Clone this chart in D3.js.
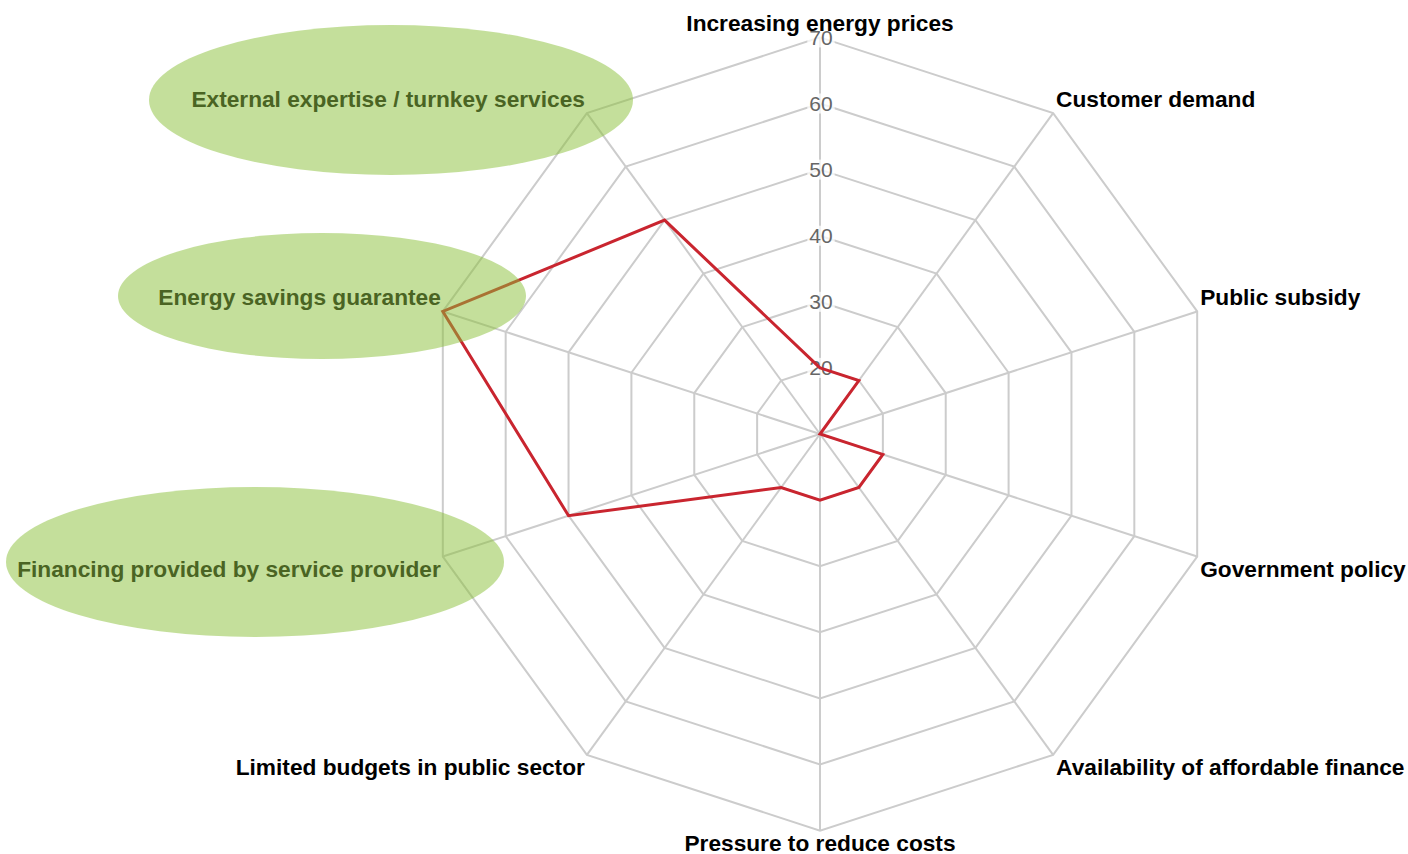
<!DOCTYPE html>
<html>
<head>
<meta charset="utf-8">
<script src="https://cdn.jsdelivr.net/npm/d3@7"></script>
<style>
  html, body { margin: 0; padding: 0; background: #fff; }
  svg { display: block; }
  text { font-family: "Liberation Sans", Arial, sans-serif; }
</style>
</head>
<body>
<svg id="chart" width="1408" height="854"></svg>
<script>
// ---- data ----
const categories = [
  "Increasing energy prices",
  "Customer demand",
  "Public subsidy",
  "Government policy",
  "Availability of affordable finance",
  "Pressure to reduce costs",
  "Limited budgets in public sector",
  "Financing provided by service provider",
  "Energy savings guarantee",
  "External expertise / turnkey services"
];
const values = [20, 20, 10, 20, 20, 20, 20, 50, 70, 50];
const tickValues = [20, 30, 40, 50, 60, 70];
const scaleMin = 10;
const scaleMax = 70;
const highlighted = [
  "External expertise / turnkey services",
  "Energy savings guarantee",
  "Financing provided by service provider"
];

// ---- layout ----
const W = 1408, H = 854;
const cx = 820, cy = 434, R = 396.6;
const labelFont = 22.7, tickFont = 21;
const ellipseLayout = {
  "External expertise / turnkey services": {cx: 391, cy: 100, rx: 242, ry: 75},
  "Energy savings guarantee": {cx: 322, cy: 296, rx: 204, ry: 63},
  "Financing provided by service provider": {cx: 255, cy: 562, rx: 249, ry: 75}
};

const svg = d3.select("#chart");
const r = d3.scaleLinear().domain([scaleMin, scaleMax]).range([0, R]);
const angle = d3.scaleLinear().domain([0, categories.length]).range([0, 2 * Math.PI]);
const pt = (i, v) => {
  const a = angle(i);
  return [cx + r(v) * Math.sin(a), cy - r(v) * Math.cos(a)];
};

const gridColor = "#cccccc";

// rings
const gRings = svg.append("g");
tickValues.forEach(t => {
  const pts = categories.map((c, i) => pt(i, t));
  gRings.append("path")
    .attr("d", d3.line()(pts) + "Z")
    .attr("fill", "none")
    .attr("stroke", gridColor)
    .attr("stroke-width", 2);
});

// spokes
const gSpokes = svg.append("g");
categories.forEach((c, i) => {
  const [x, y] = pt(i, scaleMax);
  gSpokes.append("line")
    .attr("x1", cx).attr("y1", cy)
    .attr("x2", x).attr("y2", y)
    .attr("stroke", gridColor)
    .attr("stroke-width", 2);
});

// tick labels with backdrop
const gTicks = svg.append("g");
tickValues.forEach(t => {
  const y = cy - r(t);
  const txt = gTicks.append("text")
    .attr("x", cx + 1).attr("y", y)
    .attr("text-anchor", "middle")
    .attr("dominant-baseline", "central")
    .attr("font-size", tickFont)
    .attr("fill", "#666666")
    .text(t);
  const bb = txt.node().getBBox();
  gTicks.insert("rect", "text")
    .attr("x", bb.x - 2).attr("y", y - 10)
    .attr("width", bb.width + 4).attr("height", 20)
    .attr("fill", "rgba(255,255,255,0.75)");
});

// data line
const dataPts = values.map((v, i) => pt(i, v));
svg.append("path")
  .attr("d", d3.line()(dataPts) + "Z")
  .attr("fill", "none")
  .attr("stroke", "#c9252f")
  .attr("stroke-width", 3)
  .attr("stroke-linejoin", "miter");

// highlight ellipses
const gEll = svg.append("g");
highlighted.forEach(name => {
  const e = ellipseLayout[name];
  gEll.append("ellipse")
    .attr("cx", e.cx).attr("cy", e.cy)
    .attr("rx", e.rx).attr("ry", e.ry)
    .attr("fill", "rgb(137,191,55)")
    .attr("fill-opacity", 0.5);
});

// axis labels
const gLabels = svg.append("g");
categories.forEach((c, i) => {
  const a = angle(i);
  const [x, y] = pt(i, scaleMax);
  const s = Math.sin(a), co = Math.cos(a);
  let anchor = "middle", lx = x;
  if (s > 0.01) { anchor = "start"; lx = x + 3; }
  else if (s < -0.01) { anchor = "end"; lx = x - 2; }
  const ly = co > 0 ? y - 14 : y + 12;
  const hl = highlighted.includes(c);
  gLabels.append("text")
    .attr("x", lx).attr("y", ly)
    .attr("text-anchor", anchor)
    .attr("dominant-baseline", "central")
    .attr("font-size", labelFont)
    .attr("font-weight", "bold")
    .attr("fill", hl ? "#4a6423" : "#000000")
    .text(c);
});
</script>
</body>
</html>
